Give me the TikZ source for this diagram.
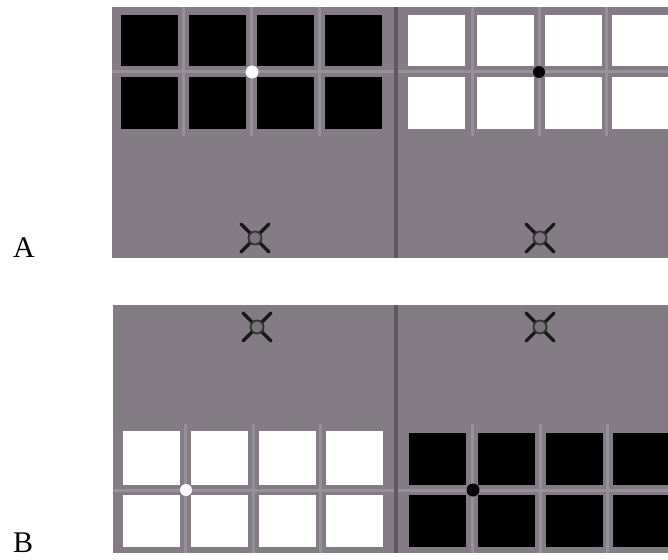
\documentclass[tikz,border=0pt]{standalone}
\usepackage{fontspec}
\setmainfont{Liberation Serif}
\definecolor{panelgray}{HTML}{847C85}
\definecolor{gaplight}{HTML}{96909A}
\definecolor{divgray}{HTML}{5E5960}
\definecolor{fixgray}{HTML}{7A747D}
\tikzset{
  panel/.style={fill=panelgray, draw=none},
  gapline/.style={draw=gaplight, line width=3pt},
  divider/.style={draw=divgray, line width=3.5pt},
  blacksq/.style={fill=black, draw=none},
  whitesq/.style={fill=white, draw=none},
  fixline/.style={draw=black!90, line width=3.2pt, line cap=round},
  fixdot/.style={circle, fill=fixgray, draw=black!80, line width=1.8pt, minimum size=13pt, inner sep=0pt},
  spot/.style={circle, inner sep=0pt, minimum size=13pt},
  lab/.style={font=\fontsize{30}{32}\selectfont, inner sep=0pt, anchor=base west}
}
\begin{document}
\begin{tikzpicture}[x=1pt,y=-1pt]
\useasboundingbox (0,0) rectangle (668,559);
% ---------- Panel A ----------
\fill[panel] (112,7) rectangle (668,258);
% gap lines A
\draw[gapline] (112,71.5) -- (668,71.5);
\foreach \gx in {183.5,251.5,319,472,539.5,606.5}{\draw[gapline] (\gx,7) -- (\gx,136);}
% squares A left (black)
\foreach \sx in {121,189,257,325}{
  \fill[blacksq] (\sx,15) rectangle ++(57,51);
  \fill[blacksq] (\sx,77) rectangle ++(57,52);
}
% squares A right (white)
\foreach \sx in {408,477,545,612}{
  \fill[whitesq] (\sx,15) rectangle ++(57,51);
  \fill[whitesq] (\sx,77) rectangle ++(57,52);
}
\draw[divider] (396,7) -- (396,258);
\node[spot, fill=white] (dotAL) at (252,72) {};
\node[spot, fill=black, minimum size=12pt] (dotAR) at (539,72) {};
% fixation crosses A
\foreach \cx/\nm in {255/fixAL,540/fixAR}{
  \draw[fixline] (\cx-14,224) -- (\cx+14,252);
  \draw[fixline] (\cx+14,224) -- (\cx-14,252);
  \node[fixdot] (\nm) at (\cx,238) {};
}
% ---------- Panel B ----------
\fill[panel] (113,305) rectangle (668,553);
\draw[gapline] (113,490.5) -- (668,490.5);
\foreach \gx in {185.5,253,320.5,472.5,540,607}{\draw[gapline] (\gx,424) -- (\gx,553);}
% squares B left (white)
\foreach \sx in {123,191,259,326}{
  \fill[whitesq] (\sx,431) rectangle ++(57,54);
  \fill[whitesq] (\sx,495) rectangle ++(57,52);
}
% squares B right (black)
\foreach \sx in {409,478,546,613}{
  \fill[blacksq] (\sx,433) rectangle ++(57,52);
  \fill[blacksq] (\sx,495) rectangle ++(57,52);
}
\draw[divider] (396,305) -- (396,553);
\node[spot, fill=white, minimum size=12pt] (dotBL) at (186,490) {};
\node[spot, fill=black] (dotBR) at (473,490) {};
\foreach \cx/\nm in {257/fixBL,540/fixBR}{
  \draw[fixline] (\cx-14,313) -- (\cx+14,341);
  \draw[fixline] (\cx+14,313) -- (\cx-14,341);
  \node[fixdot] (\nm) at (\cx,327) {};
}
% ---------- Labels ----------
\node[lab] (labA) at (13,257) {A};
\node[lab] (labB) at (13,552) {B};
\end{tikzpicture}
\end{document}
